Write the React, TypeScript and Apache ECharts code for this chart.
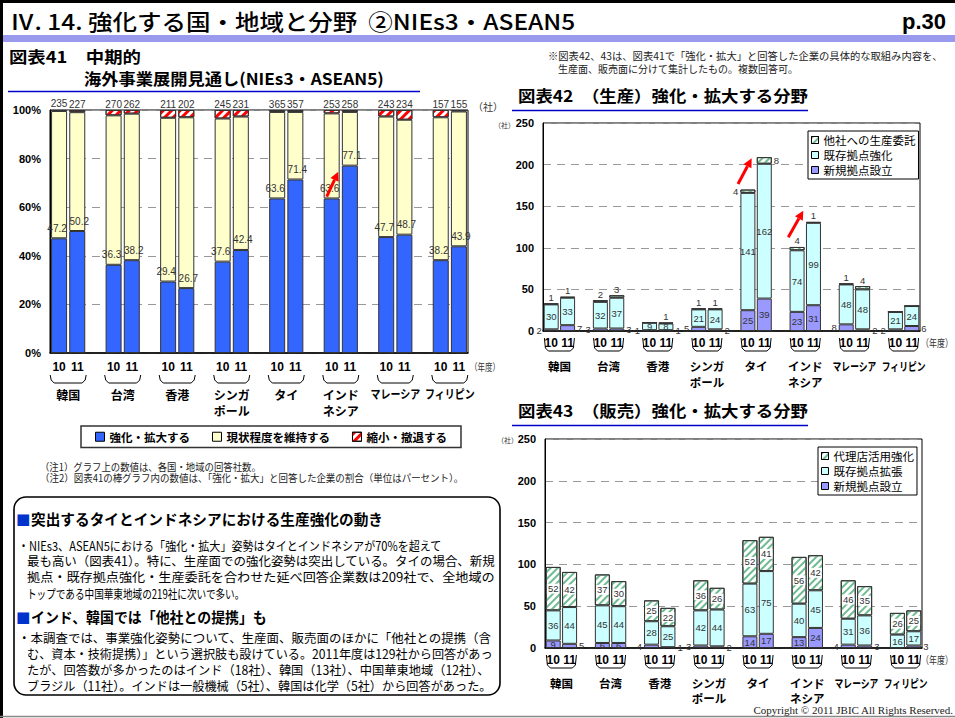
import React, { useEffect, useRef } from 'react';
import * as echarts from 'echarts';

// ---------- data ----------
const regions = ['韓国', '台湾', '香港', 'シンガ\nポール', 'タイ', 'インド\nネシア', 'マレーシア', 'フィリピン'];
const fiscalYears = ['10', '11'];

// 図表41 (%), order: region x [FY10, FY11]
const c41Count = [235, 227, 270, 262, 211, 202, 245, 231, 365, 357, 253, 258, 243, 234, 157, 155];
const c41Expand = [47.2, 50.2, 36.3, 38.2, 29.4, 26.7, 37.6, 42.4, 63.6, 71.4, 63.6, 77.1, 47.7, 48.7, 38.2, 43.9];
const c41Keep = [52.4, 48.9, 61.5, 60.3, 67.4, 70.3, 58.9, 54.9, 35.6, 27.8, 35.0, 22.1, 49.6, 47.3, 58.8, 55.5];
const c41Shrink = [0.4, 0.9, 2.2, 1.5, 3.2, 3.0, 3.5, 2.7, 0.8, 0.8, 1.4, 0.8, 2.7, 4.0, 3.0, 0.6];

// 図表42 (社)
const prodNew = [2, 7, 3, 3, 1, 1, 5, 2, 25, 39, 23, 31, 8, 2, 2, 6];
const prodExisting = [30, 33, 32, 37, 9, 8, 21, 24, 141, 162, 74, 99, 48, 48, 21, 24];
const prodOutsource = [1, 1, 2, 3, 0, 1, 1, 1, 4, 8, 4, 1, 1, 4, 0, 0];

// 図表43 (社)
const salesNew = [9, 5, 6, 6, 4, 1, 3, 2, 14, 17, 13, 24, 4, 3, 0, 3];
const salesExisting = [36, 44, 45, 44, 28, 25, 42, 44, 63, 75, 40, 45, 31, 36, 16, 17];
const salesAgent = [52, 42, 37, 30, 25, 22, 36, 26, 52, 41, 56, 42, 46, 35, 26, 25];

// ---------- helpers ----------
const JP = '"Noto Sans CJK JP", "Noto Sans", sans-serif';
const NUM = '"Liberation Sans", Arial, sans-serif';
const GROUPS = regions.length;
const NSLOT = GROUPS * 3 - 1;

function toSlots<T>(arr: T[], gap: any): any[] {
  const out: any[] = [];
  for (let g = 0; g < GROUPS; g++) {
    out.push(arr[2 * g], arr[2 * g + 1]);
    if (g < GROUPS - 1) out.push(gap);
  }
  return out;
}
const slotLabels = toSlots(
  regions.flatMap(() => fiscalYears),
  ''
);

const G41 = { left: 50, top: 110, width: 418, height: 243 };
const G42 = { left: 543, top: 123, width: 377, height: 208 };
const G43 = { left: 545, top: 439, width: 377, height: 209 };
const pairCenter = (G: any, g: number) => G.left + (3 * g + 1) * (G.width / NSLOT);

let measureCtx: CanvasRenderingContext2D | null = null;
function measure(text: string, font: string) {
  if (!measureCtx) measureCtx = document.createElement('canvas').getContext('2d');
  if (!measureCtx) return 1;
  measureCtx.font = font;
  const lines = text.split('\n');
  let w = 0;
  for (const l of lines) w = Math.max(w, measureCtx.measureText(l).width);
  return w || 1;
}

function txt(x: number, y: number, text: string, o: any = {}) {
  const size = o.size ?? 12;
  const weight = o.weight ?? 'normal';
  const family = o.family ?? JP;
  let scaleX = 1;
  const w = measure(text, `${weight} ${size}px ${family}`);
  if (o.fitW) scaleX = o.fitW / w;
  if (o.maxW) scaleX = Math.min(1, o.maxW / w);
  const align = o.align ?? 'left';
  const vAlign = o.vAlign ?? 'middle';
  return {
    type: 'text',
    x,
    y,
    scaleX,
    silent: true,
    z: o.z ?? 10,
    style: {
      text,
      fontSize: size,
      fontWeight: weight,
      fontFamily: family,
      fill: o.fill ?? '#000',
      align,
      textAlign: align,
      verticalAlign: vAlign,
      textVerticalAlign: vAlign,
      lineHeight: o.lh,
    },
  };
}

function brace(cx: number, half: number, y0: number, h: number) {
  const x0 = cx - half;
  const x1 = cx + half;
  return {
    type: 'polyline',
    silent: true,
    shape: {
      points: [
        [x0, y0],
        [x0 + 1, y0 + h - 3],
        [x0 + 4, y0 + h],
        [x1 - 4, y0 + h],
        [x1 - 1, y0 + h - 3],
        [x1, y0],
      ],
    },
    style: { stroke: '#000', lineWidth: 1, fill: null },
  };
}

function arrow(x1: number, y1: number, x2: number, y2: number) {
  const dx = x2 - x1;
  const dy = y2 - y1;
  const L = Math.hypot(dx, dy);
  const ux = dx / L;
  const uy = dy / L;
  const hl = 9;
  const hw = 4.5;
  const bx = x2 - ux * hl;
  const by = y2 - uy * hl;
  const px = -uy;
  const py = ux;
  return [
    { type: 'line', silent: true, z: 100, shape: { x1, y1, x2: bx, y2: by }, style: { stroke: '#ff0000', lineWidth: 3 } },
    {
      type: 'polygon',
      silent: true,
      z: 100,
      shape: { points: [[x2, y2], [bx + px * hw, by + py * hw], [bx - px * hw, by - py * hw]] },
      style: { fill: '#ff0000' },
    },
  ];
}

const redStripe = {
  symbol: 'rect',
  symbolSize: 1,
  dashArrayX: [1, 0],
  dashArrayY: [3, 3],
  rotation: -Math.PI / 4,
  color: '#ff0000',
};
const greenHatch = {
  symbol: 'rect',
  symbolSize: 1,
  dashArrayX: [1, 0],
  dashArrayY: [2, 3],
  rotation: -Math.PI / 4,
  color: '#6dbb91',
};

function sideLabel(v: number, k: number, threshold: number) {
  if (v === 0) return { show: false };
  if (v >= threshold) return { show: true, position: 'inside' };
  return { show: true, position: k % 2 === 0 ? 'left' : 'right', distance: 2 };
}

export default function App() {
  const ref = useRef<HTMLDivElement>(null);

  useEffect(() => {
    if (!ref.current) return;
    const chart = echarts.init(ref.current, undefined, { renderer: 'svg' });

    const barBorder = { borderColor: '#333', borderWidth: 1 };
    const smallLabel = { fontSize: 9.5, color: '#333', fontFamily: NUM };

    // ----- series 41 -----
    const s41Expand = toSlots(
      c41Expand.map((v, k) => ({ value: v, label: { offset: [k % 2 === 0 ? -2 : 2, 0] } })),
      null
    );
    const s41Keep = toSlots(c41Keep, null);
    const s41Shrink = toSlots(
      c41Shrink.map((v, k) => ({ value: v, label: { formatter: String(c41Count[k]) } })),
      null
    );

    // ----- series 42 -----
    const prodTotals = prodNew.map((v, k) => v + prodExisting[k] + prodOutsource[k]);
    const s42New = toSlots(prodNew.map((v, k) => ({ value: v, label: sideLabel(v, k, 10) })), null);
    const s42Exist = toSlots(prodExisting, null);
    const s42Out = toSlots(
      prodOutsource.map((v, k) => ({
        value: v,
        label:
          v === 0
            ? { show: false }
            : prodTotals[k] > 150
            ? { show: true, position: k % 2 === 0 ? 'left' : 'right', distance: 2 }
            : { show: true, position: 'top', distance: 1 },
      })),
      null
    );

    // ----- series 43 -----
    const s43New = toSlots(salesNew.map((v, k) => ({ value: v, label: sideLabel(v, k, 6) })), null);
    const s43Exist = toSlots(salesExisting, null);
    const s43Agent = toSlots(salesAgent, null);

    const xAxisBase = (gridIndex: number, margin: number) => ({
      type: 'category',
      gridIndex,
      data: slotLabels,
      axisTick: { show: false },
      axisLine: { show: true, lineStyle: { color: '#000', width: 1.5 } },
      axisLabel: { interval: 0, margin, fontSize: 12, fontWeight: 'bold', color: '#000', fontFamily: NUM },
    });
    const yAxisBase = (gridIndex: number, max: number, interval: number, pct: boolean) => ({
      type: 'value',
      gridIndex,
      min: 0,
      max,
      interval,
      axisLine: { show: true, lineStyle: { color: '#000', width: 1 } },
      axisTick: { show: false },
      axisLabel: {
        margin: 9,
        fontSize: 11,
        fontWeight: 'bold',
        color: '#000',
        fontFamily: NUM,
        formatter: pct ? '{value}%' : '{value}',
      },
      splitLine: { show: true, lineStyle: { color: '#999', type: [8, 6], width: 1 } },
    });

    // ----- graphics -----
    const g: any[] = [];
    // frame
    g.push({ type: 'rect', silent: true, shape: { x: 0, y: 0, width: 955, height: 3 }, style: { fill: '#000' } });
    g.push({ type: 'rect', silent: true, shape: { x: 0, y: 0, width: 3, height: 718 }, style: { fill: '#000' } });
    g.push({ type: 'rect', silent: true, shape: { x: 3, y: 35, width: 952, height: 7 }, style: { fill: '#9999ee' } });
    g.push({ type: 'line', silent: true, shape: { x1: 0, y1: 716.5, x2: 955, y2: 716.5 }, style: { stroke: '#888', lineWidth: 1.5 } });
    g.push(txt(10, 21, 'Ⅳ. 14. 強化する国・地域と分野  ②NIEs3・ASEAN5', { size: 22, weight: 500, fitW: 566 }));
    g.push(txt(946, 21, 'p.30', { size: 22, weight: 'bold', align: 'right', family: NUM }));

    // chart titles
    g.push(txt(9, 56, '図表41　中期的', { size: 16, weight: 'bold', fitW: 132 }));
    g.push(txt(84, 78, '海外事業展開見通し(NIEs3・ASEAN5)', { size: 16, weight: 'bold', fitW: 300 }));
    g.push({ type: 'line', silent: true, shape: { x1: 8, y1: 91.5, x2: 420, y2: 91.5 }, style: { stroke: '#0000cc', lineWidth: 1.5 } });
    g.push(txt(548, 56, '※図表42、43は、図表41で「強化・拡大」と回答した企業の具体的な取組み内容を、', { size: 10, fitW: 395, fill: '#222' }));
    g.push(txt(558, 68, '生産面、販売面に分けて集計したもの。複数回答可。', { size: 10, fitW: 240, fill: '#222' }));
    g.push(txt(518, 95, '図表42　（生産）強化・拡大する分野', { size: 16, weight: 'bold', fitW: 290 }));
    g.push({ type: 'line', silent: true, shape: { x1: 512, y1: 110.5, x2: 808, y2: 110.5 }, style: { stroke: '#0000cc', lineWidth: 1.5 } });
    g.push(txt(518, 410, '図表43　（販売）強化・拡大する分野', { size: 16, weight: 'bold', fitW: 290 }));
    g.push({ type: 'line', silent: true, shape: { x1: 512, y1: 425.5, x2: 808, y2: 425.5 }, style: { stroke: '#0000cc', lineWidth: 1.5 } });

    // unit labels
    g.push(txt(473, 106, '（社）', { size: 10, fill: '#333' }));
    g.push(txt(494, 125, '（社）', { size: 7, fill: '#333' }));
    g.push(txt(497, 440, '（社）', { size: 7, fill: '#333' }));
    g.push(txt(470, 367, '（年度）', { size: 10, fill: '#333', fitW: 30 }));
    g.push(txt(921, 343, '（年度）', { size: 10.5, fill: '#333', fitW: 32 }));
    g.push(txt(921, 660, '（年度）', { size: 10.5, fill: '#333', fitW: 32 }));

    // braces + region names
    for (let k = 0; k < GROUPS; k++) {
      const c1 = pairCenter(G41, k);
      g.push(brace(c1, 18, 375, 8));
      g.push(txt(c1, 386, regions[k], { size: 12, weight: 'bold', align: 'center', vAlign: 'top', lh: 16, maxW: 50 }));
      const c2 = pairCenter(G42, k);
      g.push(brace(c2, 15, 338, 13));
      g.push(txt(c2, 358, regions[k], { size: 11.5, weight: 'bold', align: 'center', vAlign: 'top', lh: 16, maxW: 44 }));
      const c3 = pairCenter(G43, k);
      g.push(brace(c3, 15, 655, 13));
      g.push(txt(c3, 675, regions[k], { size: 11.5, weight: 'bold', align: 'center', vAlign: 'top', lh: 15, maxW: 44 }));
    }

    // notes
    g.push(txt(40, 467, '（注1）グラフ上の数値は、各国・地域の回答社数。', { size: 10, fitW: 221, fill: '#222' }));
    g.push(txt(40, 478, '（注2）図表41の棒グラフ内の数値は、「強化・拡大」と回答した企業の割合（単位はパーセント）。', { size: 10, fitW: 424, fill: '#222' }));

    // arrows
    g.push(...arrow(326.7, 196.7, 338.3, 171.7));
    g.push(...arrow(738, 184, 751.7, 158.3));
    g.push(...arrow(788.3, 237.3, 803.3, 210.7));

    // text box
    g.push({
      type: 'rect',
      silent: true,
      shape: { x: 14, y: 497, width: 486, height: 198, r: 12 },
      style: { fill: '#fff', stroke: '#000', lineWidth: 1.6 },
    });
    g.push(txt(16, 519, '■', { size: 14.5, weight: 'bold', fill: '#0033cc' }));
    g.push(txt(31, 519, '突出するタイとインドネシアにおける生産強化の動き', { size: 14.5, weight: 'bold', fitW: 352 }));
    g.push(txt(18, 545, '・NIEs3、ASEAN5における「強化・拡大」姿勢はタイとインドネシアが70%を超えて', { size: 12.5, fitW: 424 }));
    g.push(txt(27, 561, '最も高い（図表41）。特に、生産面での強化姿勢は突出している。タイの場合、新規', { size: 12.5, fitW: 469 }));
    g.push(txt(27, 577, '拠点・既存拠点強化・生産委託を合わせた延べ回答企業数は209社で、全地域の', { size: 12.5, fitW: 468 }));
    g.push(txt(27, 593, 'トップである中国華東地域の219社に次いで多い。', { size: 12.5, fitW: 218 }));
    g.push(txt(16, 617, '■', { size: 14.5, weight: 'bold', fill: '#0033cc' }));
    g.push(txt(31, 617, 'インド、韓国では「他社との提携」も', { size: 14.5, weight: 'bold', fitW: 236 }));
    g.push(txt(18, 638, '・本調査では、事業強化姿勢について、生産面、販売面のほかに「他社との提携（含', { size: 12.5, fitW: 474 }));
    g.push(txt(27, 654, 'む、資本・技術提携）」という選択肢も設けている。2011年度は129社から回答があっ', { size: 12.5, fitW: 466 }));
    g.push(txt(27, 670, 'たが、回答数が多かったのはインド（18社）、韓国（13社）、中国華東地域（12社）、', { size: 12.5, fitW: 463 }));
    g.push(txt(27, 686, 'ブラジル（11社）。インドは一般機械（5社）、韓国は化学（5社）から回答があった。', { size: 12.5, fitW: 465 }));

    g.push(txt(953, 710, 'Copyright © 2011 JBIC All Rights Reserved.', { size: 11, align: 'right', family: '"Liberation Serif", "DejaVu Serif", serif', fill: '#222' }));

    const option: any = {
      animation: false,
      backgroundColor: '#fff',
      textStyle: { fontFamily: JP },
      grid: [
        { ...G41, show: true, borderColor: '#000', borderWidth: 1 },
        { ...G42, show: true, borderColor: '#000', borderWidth: 1 },
        { ...G43, show: true, borderColor: '#000', borderWidth: 1 },
      ],
      xAxis: [xAxisBase(0, 8), xAxisBase(1, 6), xAxisBase(2, 6)],
      yAxis: [yAxisBase(0, 100, 20, true), yAxisBase(1, 250, 50, false), yAxisBase(2, 250, 50, false)],
      legend: [
        {
          data: ['強化・拡大する', '現状程度を維持する', '縮小・撤退する'],
          left: 81,
          top: 426,
          orient: 'horizontal',
          icon: 'rect',
          itemWidth: 9,
          itemHeight: 9,
          itemGap: 22,
          padding: [5, 14, 5, 14],
          borderColor: '#333',
          borderWidth: 1.5,
          backgroundColor: '#fff',
          selectedMode: false,
          itemStyle: { borderColor: '#000', borderWidth: 1 },
          textStyle: { fontSize: 11.5, fontWeight: 'bold', color: '#000', fontFamily: JP },
        },
        {
          data: ['他社への生産委託', '既存拠点強化', '新規拠点設立'],
          left: 808,
          top: 131,
          orient: 'vertical',
          icon: 'rect',
          itemWidth: 7,
          itemHeight: 7,
          itemGap: 1,
          padding: [2, 3, 2, 3],
          borderColor: '#000',
          borderWidth: 1,
          backgroundColor: '#fff',
          selectedMode: false,
          itemStyle: { borderColor: '#000', borderWidth: 1 },
          textStyle: { fontSize: 11.5, color: '#000', fontFamily: JP, lineHeight: 14 },
        },
        {
          data: ['代理店活用強化', '既存拠点拡張', '新規拠点設立'],
          left: 818,
          top: 447,
          orient: 'vertical',
          icon: 'rect',
          itemWidth: 7,
          itemHeight: 7,
          itemGap: 1,
          padding: [2, 3, 2, 3],
          borderColor: '#000',
          borderWidth: 1,
          backgroundColor: '#fff',
          selectedMode: false,
          itemStyle: { borderColor: '#000', borderWidth: 1 },
          textStyle: { fontSize: 11.5, color: '#000', fontFamily: JP, lineHeight: 14 },
        },
      ],
      series: [
        {
          name: '強化・拡大する',
          type: 'bar',
          stack: 'c41',
          xAxisIndex: 0,
          yAxisIndex: 0,
          barWidth: 16,
          data: s41Expand,
          itemStyle: { color: '#3366ff', ...barBorder },
          label: {
            show: true,
            position: 'top',
            distance: 5,
            fontSize: 10,
            color: '#333',
            fontFamily: NUM,
            formatter: (p: any) => (p.value == null ? '' : Number(p.value).toFixed(1)),
          },
        },
        {
          name: '現状程度を維持する',
          type: 'bar',
          stack: 'c41',
          xAxisIndex: 0,
          yAxisIndex: 0,
          barWidth: 16,
          data: s41Keep,
          itemStyle: { color: '#ffffcc', ...barBorder },
        },
        {
          name: '縮小・撤退する',
          type: 'bar',
          stack: 'c41',
          xAxisIndex: 0,
          yAxisIndex: 0,
          barWidth: 16,
          data: s41Shrink,
          itemStyle: { color: '#ffffff', decal: redStripe, ...barBorder },
          label: { show: true, position: 'top', distance: 1, fontSize: 10, color: '#333', fontFamily: NUM },
        },
        {
          name: '新規拠点設立',
          type: 'bar',
          stack: 'c42',
          xAxisIndex: 1,
          yAxisIndex: 1,
          barWidth: 15,
          data: s42New,
          itemStyle: { color: '#9999ff', ...barBorder },
          label: { show: true, ...smallLabel },
        },
        {
          name: '既存拠点強化',
          type: 'bar',
          stack: 'c42',
          xAxisIndex: 1,
          yAxisIndex: 1,
          barWidth: 15,
          data: s42Exist,
          itemStyle: { color: '#ccffff', ...barBorder },
          label: { show: true, position: 'inside', ...smallLabel },
        },
        {
          name: '他社への生産委託',
          type: 'bar',
          stack: 'c42',
          xAxisIndex: 1,
          yAxisIndex: 1,
          barWidth: 15,
          data: s42Out,
          itemStyle: { color: '#ffffff', decal: greenHatch, ...barBorder },
          label: { show: true, ...smallLabel },
        },
        {
          name: '新規拠点設立',
          type: 'bar',
          stack: 'c43',
          xAxisIndex: 2,
          yAxisIndex: 2,
          barWidth: 15,
          data: s43New,
          itemStyle: { color: '#9999ff', ...barBorder },
          label: { show: true, ...smallLabel },
        },
        {
          name: '既存拠点拡張',
          type: 'bar',
          stack: 'c43',
          xAxisIndex: 2,
          yAxisIndex: 2,
          barWidth: 15,
          data: s43Exist,
          itemStyle: { color: '#ccffff', ...barBorder },
          label: { show: true, position: 'inside', ...smallLabel },
        },
        {
          name: '代理店活用強化',
          type: 'bar',
          stack: 'c43',
          xAxisIndex: 2,
          yAxisIndex: 2,
          barWidth: 15,
          data: s43Agent,
          itemStyle: { color: '#ffffff', decal: greenHatch, ...barBorder },
          label: {
            show: true,
            position: 'inside',
            ...smallLabel,
            backgroundColor: '#ffffff',
            padding: [0, 1],
          },
        },
      ],
      graphic: { elements: g },
    };

    chart.setOption(option);
    return () => chart.dispose();
  }, []);

  return (
    <div
      ref={ref}
      style={{ position: 'fixed', left: 0, top: 0, width: 955, height: 718, background: '#fff' }}
    />
  );
}
